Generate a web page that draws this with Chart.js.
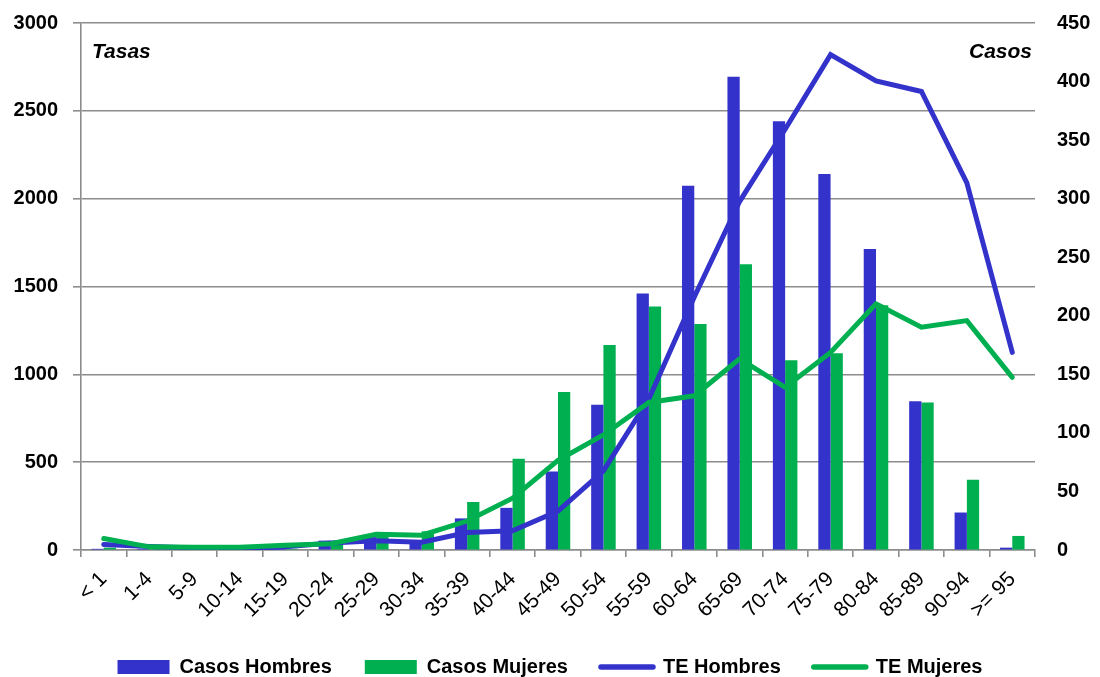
<!DOCTYPE html>
<html lang="es">
<head>
<meta charset="utf-8">
<title>Casos y tasas por grupo de edad</title>
<script src="https://cdn.jsdelivr.net/npm/chart.js@4.4.1/dist/chart.umd.min.js"></script>
<style>
  html, body { margin: 0; padding: 0; background: #ffffff; }
  #wrap { width: 1100px; height: 677px; }
</style>
</head>
<body>
<div id="wrap"><canvas id="chart" width="1100" height="677"></canvas></div>
<script>
// Grupos de edad (eje X)
const ageGroups = ['< 1', '1-4', '5-9', '10-14', '15-19', '20-24', '25-29', '30-34', '35-39',
  '40-44', '45-49', '50-54', '55-59', '60-64', '65-69', '70-74', '75-79', '80-84', '85-89',
  '90-94', '>= 95'];

// Número de casos (eje derecho)
const casosHombres = [1, 1, 1, 1, 2, 8, 11, 8, 27, 36, 67, 124, 219, 311, 404, 366, 321, 257, 127, 32, 2];
const casosMujeres = [2, 1, 1, 1, 1, 5, 12, 16, 41, 78, 135, 175, 208, 193, 244, 162, 168, 209, 126, 60, 12];

// Tasas específicas (eje izquierdo)
const teHombres = [32, 20, 12, 5, 19, 40, 52, 44, 99, 110, 222, 450, 860, 1440, 1985, 2395, 2820, 2670, 2610, 2090, 1125];
const teMujeres = [65, 18, 16, 15, 27, 36, 90, 84, 165, 295, 510, 655, 840, 878, 1088, 926, 1125, 1401, 1268, 1306, 983];

// Rangos de los ejes
const tasasMax = 3000, tasasStep = 500;
const casosMax = 450, casosStep = 50;

const AZUL = '#3333CC';
const VERDE = '#00B050';
const GRIS = '#8C8C8C';
const FONT = "'Liberation Sans', Arial, sans-serif";

Chart.defaults.font.family = FONT;
Chart.defaults.color = '#000000';

// Rótulos de los ejes dentro del área de trazado
const axisCaptions = {
  id: 'axisCaptions',
  afterDraw(chart) {
    const { ctx, chartArea } = chart;
    ctx.save();
    ctx.font = `italic bold 21px ${FONT}`;
    ctx.fillStyle = '#000000';
    ctx.textBaseline = 'alphabetic';
    ctx.textAlign = 'left';
    ctx.fillText('Tasas', chartArea.left + 11, chartArea.top + 35);
    ctx.textAlign = 'right';
    ctx.fillText('Casos', chartArea.right - 3, chartArea.top + 35);
    ctx.restore();
  }
};

const tickFont = { family: FONT, size: 20, weight: 'bold' };

// Ancho fijo de los ejes verticales; el margen vertical lo da layout.padding
function fixedWidth(w) {
  return function (scale) {
    scale.width = w;
    scale.paddingTop = 12;
    scale.paddingBottom = 12;
  };
}

new Chart(document.getElementById('chart'), {
  type: 'bar',
  data: {
    labels: ageGroups,
    datasets: [
      { type: 'bar', label: 'Casos Hombres', data: casosHombres, backgroundColor: AZUL,
        yAxisID: 'y1', order: 2, categoryPercentage: 0.54, barPercentage: 1 },
      { type: 'bar', label: 'Casos Mujeres', data: casosMujeres, backgroundColor: VERDE,
        yAxisID: 'y1', order: 3, categoryPercentage: 0.54, barPercentage: 1 },
      { type: 'line', label: 'TE Hombres', data: teHombres, borderColor: AZUL, backgroundColor: AZUL,
        borderWidth: 5, pointRadius: 0, tension: 0, borderCapStyle: 'round',
        yAxisID: 'y', order: 1 },
      { type: 'line', label: 'TE Mujeres', data: teMujeres, borderColor: VERDE, backgroundColor: VERDE,
        borderWidth: 5, pointRadius: 0, tension: 0, borderCapStyle: 'round',
        yAxisID: 'y', order: 0 }
    ]
  },
  options: {
    responsive: false,
    animation: false,
    layout: { padding: { top: 23, bottom: -10, left: 0, right: 0 } },
    plugins: {
      tooltip: { enabled: false },
      legend: {
        position: 'bottom',
        labels: {
          usePointStyle: true,
          pointStyleWidth: 52,
          boxHeight: 14,
          padding: 33,
          color: '#000000',
          font: { family: FONT, size: 20, weight: 'bold' },
          generateLabels(chart) {
            return chart.data.datasets.map((ds, i) => {
              const isBar = ds.type === 'bar';
              const c = isBar ? ds.backgroundColor : ds.borderColor;
              return {
                text: ds.label,
                fillStyle: c,
                strokeStyle: c,
                lineWidth: isBar ? 0 : 5.5,
                lineCap: 'round',
                pointStyle: isBar ? 'rect' : 'line',
                datasetIndex: i,
                hidden: false
              };
            });
          }
        }
      }
    },
    scales: {
      x: {
        offset: true,
        grid: { offset: true, drawOnChartArea: false, drawTicks: true, tickLength: 7,
                color: GRIS, lineWidth: 1.6 },
        border: { display: true, color: GRIS, width: 1.6 },
        ticks: { autoSkip: false, minRotation: 45, maxRotation: 45, padding: 10,
                 color: '#000000', font: { family: FONT, size: 21 } },
        afterFit(scale) { scale.height = 74; }
      },
      y: {
        position: 'left',
        min: 0, max: tasasMax,
        ticks: { stepSize: tasasStep, padding: 15, color: '#000000', font: tickFont,
                 callback: v => String(v) },
        grid: { color: GRIS, lineWidth: 1.6, tickLength: 8 },
        border: { display: true, color: GRIS, width: 1.6 },
        afterFit: fixedWidth(81)
      },
      y1: {
        position: 'right',
        min: 0, max: casosMax,
        ticks: { stepSize: casosStep, padding: 22, color: '#000000', font: tickFont,
                 callback: v => String(v) },
        grid: { drawOnChartArea: false, drawTicks: false },
        border: { display: false },
        afterFit: fixedWidth(65)
      }
    }
  },
  plugins: [axisCaptions]
});
</script>
</body>
</html>
